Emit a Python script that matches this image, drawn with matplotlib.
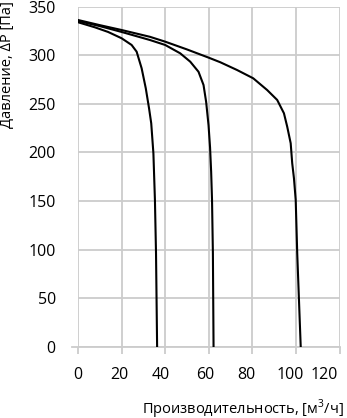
import matplotlib
matplotlib.use("Agg")
import matplotlib.pyplot as plt
from matplotlib.transforms import ScaledTranslation

plt.rcParams['font.family'] = ['Open Sans', 'DejaVu Sans']
plt.rcParams['mathtext.fontset'] = 'custom'
plt.rcParams['mathtext.rm'] = 'Open Sans'

# кривые вентилятора: расход [м3/ч] и давление [Па]
q1 = [0, 7.7, 13.8, 20, 24.6, 26.9, 29.2, 31.1, 32.6, 33.6, 34.6, 35.3, 35.8, 36.3]
p1 = [334, 328.8, 324, 317.5, 310.6, 303.7, 286.6, 266, 245.4, 230, 199, 151, 96, 0]

q2 = [0, 10, 20, 33, 40, 46.9, 51.5, 55.3, 57.6, 58.8, 59.9, 60.6, 61.1, 61.5, 61.9, 62.2]
p2 = [335.3, 330, 324, 315.7, 310.6, 302, 293.4, 283, 269.4, 252, 228, 205, 180, 151, 96, 0]

q3 = [0, 10, 20, 33, 40, 50, 60, 65.3, 73, 80.4, 86.8, 91.4, 94.5, 96, 97.6,
      98.3, 99.1, 99.9, 100.6, 102.2]
p3 = [336.3, 331, 326, 319, 314, 306, 297.5, 292.8, 284.8, 276.3, 264.2, 254, 240.3,
      226.5, 209.4, 188.8, 173.3, 151, 96, 0]

xticks = [0, 20, 40, 60, 80, 100, 120]
yticks = [0, 50, 100, 150, 200, 250, 300, 350]
# в оригинале подписи оси X немного сдвинуты влево (px)
xlabel_shift = [0, -2, -4, -4, -6, -6, -15]

fig = plt.figure(figsize=(3.47, 4.18), dpi=100)
ax = fig.add_axes([0.2248, 0.1706, 0.7536, 0.8134])

grid_c = '#cccccc'

# сетка
ax.grid(True, color=grid_c, linewidth=1.3)
ax.set_axisbelow(True)

for q, p in [(q1, p1), (q2, p2), (q3, p3)]:
    ax.plot(q, p, color='black', lw=1.5, zorder=3)

ax.set_xlim(0, 120)
ax.set_ylim(0, 350)
ax.set_xticks(xticks)
ax.set_yticks(yticks)

for s in ['top', 'right', 'left']:
    ax.spines[s].set_visible(False)
ax.spines['bottom'].set_color(grid_c)
ax.spines['bottom'].set_linewidth(1.3)
ax.spines['bottom'].set_bounds(-2.8, 120)

ax.tick_params(axis='x', length=5, width=1.3, color=grid_c, labelbottom=False)
ax.tick_params(axis='y', length=0, pad=16, labelsize=11.5)

lab_tr = ax.get_xaxis_transform()
for v, dx in zip(xticks, xlabel_shift):
    ax.text(v, 0, str(v), fontsize=11.5, ha='center', va='center',
            transform=lab_tr + ScaledTranslation(dx / 100, -28 / 100, fig.dpi_scale_trans))

ax.set_xlabel('Производительность, [м$^\\mathregular{3}$/ч]', fontsize=10.5)
ax.xaxis.set_label_coords(1.015, -0.185)
ax.xaxis.label.set_ha('right')
ax.xaxis.label.set_va('center')

ax.set_ylabel('Давление, ΔP [Па]', fontsize=10.5)
ax.yaxis.set_label_coords(-0.268, 1.015)
ax.yaxis.label.set_ha('right')
ax.yaxis.label.set_va('center')

fig.savefig('out.png', dpi=100)
